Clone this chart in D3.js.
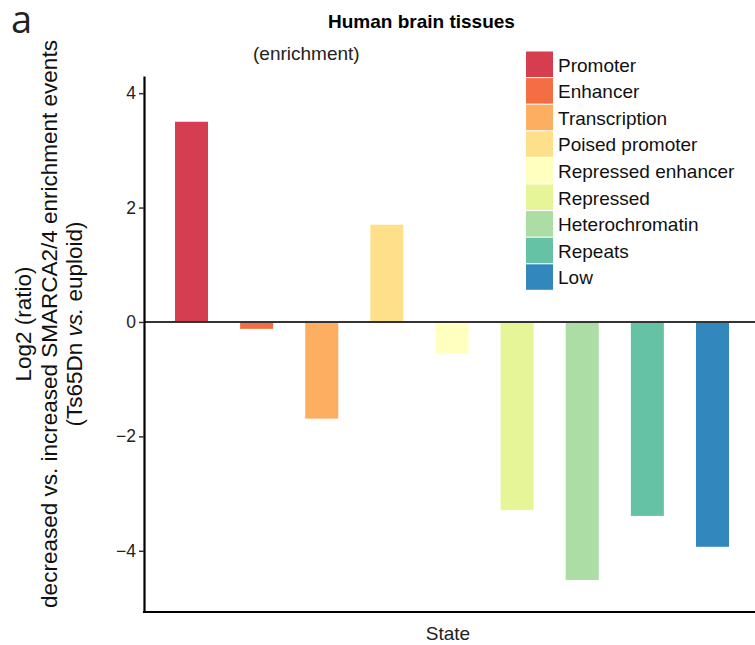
<!DOCTYPE html>
<html>
<head>
<meta charset="utf-8">
<script src="https://cdn.jsdelivr.net/npm/d3@7"></script>
<style>
  body { margin: 0; background: #fff; }
  svg { display: block; font-family: "Liberation Sans", Arial, sans-serif; }
</style>
</head>
<body>
<svg width="755" height="645"></svg>
<script>
// data
var states = ["Promoter", "Enhancer", "Transcription", "Poised promoter",
  "Repressed enhancer", "Repressed", "Heterochromatin", "Repeats", "Low"];
var values = [3.5, -0.12, -1.69, 1.70, -0.55, -3.29, -4.51, -3.39, -3.93];
var colors = ["#d53e4f", "#f46d43", "#fdae61", "#fee08b", "#ffffbf",
  "#e6f598", "#abdda4", "#66c2a5", "#3288bd"];
var yTicks = [-4, -2, 0, 2, 4];

var svg = d3.select("svg");

var plotLeft = 144, plotRight = 760, plotTop = 76, plotBottom = 612;

// scales
var x = d3.scaleBand()
    .domain(states)
    .range([plotLeft, plotRight])
    .paddingInner(0.493)
    .paddingOuter(0.476);

var y = d3.scaleLinear()
    .domain([-5.07, 4.3])
    .range([plotBottom, plotTop]);

var color = d3.scaleOrdinal().domain(states).range(colors);

// bars
svg.append("g")
  .selectAll("rect")
  .data(states)
  .join("rect")
    .attr("x", d => x(d))
    .attr("width", x.bandwidth())
    .attr("y", (d, i) => y(Math.max(0, values[i])))
    .attr("height", (d, i) => Math.abs(y(values[i]) - y(0)))
    .attr("fill", d => color(d));

// zero line
svg.append("line")
    .attr("x1", plotLeft).attr("x2", plotRight)
    .attr("y1", y(0)).attr("y2", y(0))
    .attr("stroke", "#333")
    .attr("stroke-width", 2);

// y axis
var yAxis = svg.append("g")
    .attr("transform", "translate(" + plotLeft + ",0)")
    .call(d3.axisLeft(y).tickValues(yTicks).tickSize(5).tickSizeOuter(0)
      .tickFormat(d => d < 0 ? "\u2212" + Math.abs(d) : d));
yAxis.select(".domain").attr("stroke", "#000").attr("stroke-width", 2.2);
yAxis.selectAll(".tick line").attr("stroke", "#333").attr("stroke-width", 1.5);
yAxis.selectAll(".tick text")
    .attr("font-size", 17.5)
    .attr("fill", "#222")
    .attr("font-family", "Liberation Sans, Arial, sans-serif")
    .attr("x", -8);

// x axis line
svg.append("line")
    .attr("x1", plotLeft - 1.1).attr("x2", plotRight)
    .attr("y1", plotBottom).attr("y2", plotBottom)
    .attr("stroke", "#000")
    .attr("stroke-width", 2.2);

// texts
svg.append("text")
    .attr("x", 11).attr("y", 33)
    .attr("font-family", "Open Sans, DejaVu Sans, sans-serif")
    .attr("font-size", 38)
    .attr("fill", "#222")
    .text("a");

svg.append("text")
    .attr("x", 421.5).attr("y", 27.5)
    .attr("text-anchor", "middle")
    .attr("font-weight", "bold")
    .attr("font-size", 19)
    .text("Human brain tissues");

svg.append("text")
    .attr("x", 253).attr("y", 60)
    .attr("font-size", 19)
    .attr("fill", "#222")
    .text("(enrichment)");

svg.append("text")
    .attr("x", 448).attr("y", 640)
    .attr("text-anchor", "middle")
    .attr("font-size", 19)
    .attr("fill", "#222")
    .text("State");

var ylab = svg.append("text")
    .attr("transform", "translate(0,324) rotate(-90)")
    .attr("text-anchor", "middle")
    .attr("font-size", 22.5)
    .attr("fill", "#111");
ylab.append("tspan").attr("x", 0).attr("y", 31).text("Log2 (ratio)");
ylab.append("tspan").attr("x", 0).attr("y", 56.5).text("decreased vs. increased SMARCA2/4 enrichment events");
var l3 = ylab.append("tspan").attr("x", 0).attr("y", 82);
l3.append("tspan").text("(Ts65Dn ");
l3.append("tspan").attr("font-style", "italic").text("vs.");
l3.append("tspan").text(" euploid)");

// legend
var legend = svg.append("g")
    .attr("transform", "translate(526,51.5)");

var item = legend.selectAll("g")
  .data(states)
  .join("g")
    .attr("transform", (d, i) => "translate(0," + i * 26.6 + ")");

item.append("rect")
    .attr("width", 27)
    .attr("height", 25.5)
    .attr("fill", d => color(d));

item.append("text")
    .attr("x", 32)
    .attr("y", 20)
    .attr("font-size", 19)
    .attr("fill", "#111")
    .text(d => d);
</script>
</body>
</html>
